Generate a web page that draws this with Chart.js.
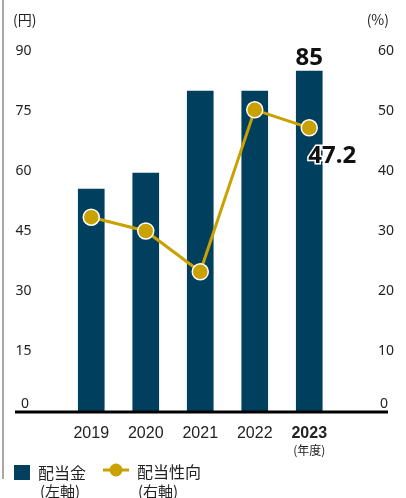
<!DOCTYPE html>
<html>
<head>
<meta charset="utf-8">
<script src="https://cdn.jsdelivr.net/npm/chart.js@4/dist/chart.umd.min.js"></script>
<style>
html,body{margin:0;padding:0;background:#fff;}
#wrap{position:relative;width:406px;height:498px;}
</style>
</head>
<body>
<div id="wrap"><canvas id="c"></canvas></div>
<script>
// ---- data ----
const years = ['2019', '2020', '2021', '2022', '2023'];
const dividend = [55.5, 59.5, 80, 80, 85];        // 配当金 (円, left axis)
const payoutRatio = [32.3, 30.0, 23.2, 50.2, 47.2]; // 配当性向 (%, right axis)
const leftTickMax = 90, leftTickStep = 15;
const rightTickMax = 60, rightTickStep = 10;
const leftUnit = '(円)';
const rightUnit = '(%)';
const yearUnit = '(年度)';
const seriesNames = ['配当金', '配当性向'];
const seriesSub = ['(左軸)', '(右軸)'];

const BAR = '#013f5e';
const GOLD = '#c9a100';
const TXT = '#222';

// padded category slots so the bars sit like the original
const labels = [''].concat(years, ['']);
const pad = arr => [null].concat(arr, [null]);
const lastIdx = years.length; // index of 2023 in padded labels

const decor = {
  id: 'decor',
  afterDraw(chart) {
    const ctx = chart.ctx;
    const y = chart.scales.y;
    const x = chart.scales.x;
    ctx.save();
    // left gray rule
    ctx.strokeStyle = '#8a8a8a';
    ctx.lineWidth = 1.5;
    ctx.beginPath(); ctx.moveTo(3, 0); ctx.lineTo(3, 479); ctx.stroke();
    // baseline
    const y0 = y.getPixelForValue(0);
    ctx.strokeStyle = '#000';
    ctx.lineWidth = 3;
    ctx.beginPath(); ctx.moveTo(15, y0 + 1); ctx.lineTo(388, y0 + 1); ctx.stroke();
    // zero labels
    ctx.fillStyle = TXT;
    ctx.font = '14px "Noto Sans"';
    ctx.textBaseline = 'middle';
    ctx.textAlign = 'right';
    ctx.fillText('0', 29, y0 - 7);
    ctx.fillText('0', 388, y0 - 7);
    // units
    ctx.textAlign = 'left';
    ctx.font = '14px "Noto Sans CJK JP"';
    ctx.fillText(leftUnit, 13, 20);
    ctx.textAlign = 'right';
    ctx.fillText(rightUnit, 389, 20);
    // year unit
    ctx.textAlign = 'center';
    ctx.font = '12px "Noto Sans CJK JP"';
    ctx.fillText(yearUnit, x.getPixelForValue(lastIdx), 450);
    // value labels
    const bar = chart.getDatasetMeta(0).data[lastIdx];
    const pt = chart.getDatasetMeta(1).data[lastIdx];
    ctx.font = 'bold 24px "Noto Sans"';
    ctx.fillStyle = '#111';
    ctx.textAlign = 'center';
    ctx.fillText(String(dividend[dividend.length - 1]), bar.x, bar.y - 13);
    ctx.lineWidth = 3;
    ctx.strokeStyle = '#fff';
    ctx.strokeText(payoutRatio[payoutRatio.length - 1].toFixed(1), pt.x + 23, pt.y + 28);
    ctx.fillText(payoutRatio[payoutRatio.length - 1].toFixed(1), pt.x + 23, pt.y + 28);
    // legend
    ctx.fillStyle = BAR;
    ctx.fillRect(14, 465, 16, 15);
    ctx.strokeStyle = GOLD;
    ctx.lineWidth = 3;
    ctx.beginPath(); ctx.moveTo(103, 470); ctx.lineTo(129, 470); ctx.stroke();
    ctx.fillStyle = GOLD;
    ctx.beginPath(); ctx.arc(116, 470, 6.5, 0, Math.PI * 2); ctx.fill();
    ctx.fillStyle = TXT;
    ctx.textAlign = 'left';
    ctx.font = '16px "Noto Sans CJK JP"';
    ctx.fillText(seriesNames[0], 38, 473);
    ctx.fillText(seriesNames[1], 137, 472);
    ctx.font = '15px "Noto Sans CJK JP"';
    ctx.fillText(seriesSub[0], 40, 491);
    ctx.fillText(seriesSub[1], 138, 491);
    ctx.restore();
  }
};

new Chart(document.getElementById('c'), {
  data: {
    labels: labels,
    datasets: [
      {
        type: 'bar',
        label: seriesNames[0],
        data: pad(dividend),
        backgroundColor: BAR,
        barThickness: 26,
        yAxisID: 'y',
        order: 2
      },
      {
        type: 'line',
        label: seriesNames[1],
        data: pad(payoutRatio),
        borderColor: GOLD,
        borderWidth: 3,
        pointRadius: 8,
        pointBackgroundColor: GOLD,
        pointBorderColor: '#fff',
        pointBorderWidth: 1.5,
        tension: 0,
        yAxisID: 'y1',
        order: 1
      }
    ]
  },
  options: {
    responsive: true,
    maintainAspectRatio: false,
    animation: false,
    layout: { padding: { left: 9, right: 15, top: 51, bottom: 56 } },
    plugins: { legend: { display: false }, tooltip: { enabled: false } },
    scales: {
      x: {
        grid: { display: false, drawTicks: false },
        border: { display: false },
        afterFit: (s) => { s.height = 31; },
        ticks: {
          padding: 13,
          color: TXT,
          autoSkip: false,
          maxRotation: 0,
          font: (c) => (c.index === lastIdx
            ? { family: '"Liberation Sans"', size: 16, weight: 'bold' }
            : { family: '"Liberation Sans"', size: 16 })
        }
      },
      y: {
        position: 'left',
        min: 0, max: leftTickMax,
        grid: { display: false, drawTicks: false },
        border: { display: false },
        afterFit: (s) => { s.width = 0; },
        ticks: {
          stepSize: leftTickStep,
          mirror: true,
          padding: 6,
          color: TXT,
          font: { family: '"Noto Sans"', size: 14 },
          callback: (v) => (v === 0 ? '' : v)
        }
      },
      y1: {
        position: 'right',
        min: 0, max: rightTickMax,
        grid: { display: false, drawTicks: false },
        border: { display: false },
        afterFit: (s) => { s.width = 0; },
        ticks: {
          stepSize: rightTickStep,
          mirror: true,
          padding: 3,
          color: TXT,
          font: { family: '"Noto Sans"', size: 14 },
          callback: (v) => (v === 0 ? '' : v)
        }
      }
    }
  },
  plugins: [decor]
});
</script>
</body>
</html>
